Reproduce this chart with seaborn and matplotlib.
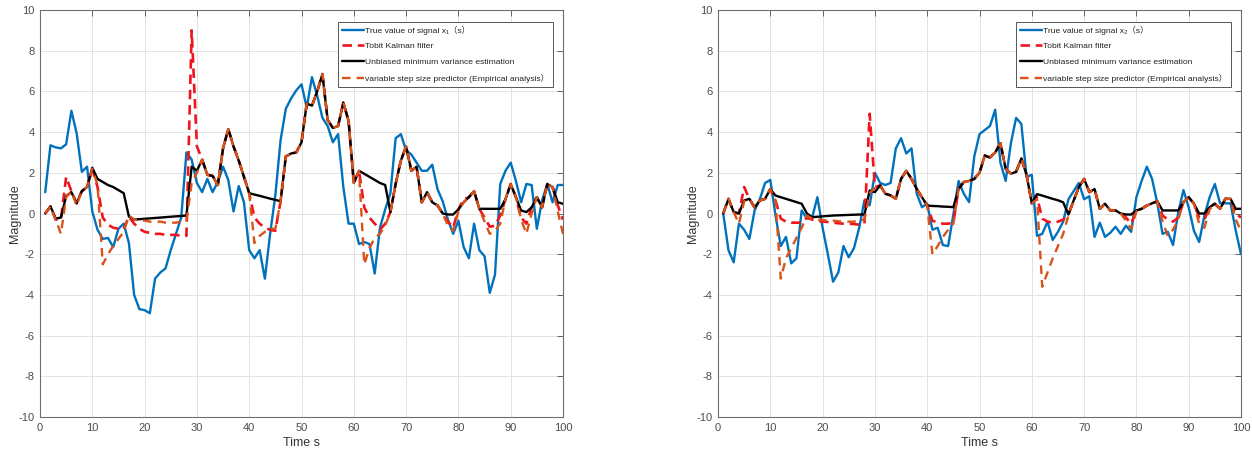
import matplotlib
matplotlib.use('Agg')
import matplotlib.pyplot as plt
import seaborn as sns

# time axis (samples 1..100)
t = list(range(1, 101))

# ---- signal x1 ----
x1_true = [1.05, 3.35, 3.25, 3.2, 3.4, 5.05, 3.95, 2.05, 2.3, 0.1,
           -0.8, -1.25, -1.2, -1.65, -0.75, -0.5, -1.45, -4.0, -4.7, -4.75,
           -4.9, -3.2, -2.9, -2.7, -1.8, -1.0, -0.2, 3.0, 2.65, 1.5,
           1.05, 1.7, 1.05, 1.55, 2.3, 1.65, 0.1, 1.35, 0.55, -1.8,
           -2.2, -1.8, -3.2, -1.0, 0.9, 3.6, 5.15, 5.65, 6.05, 6.35,
           5.2, 6.7, 5.8, 4.7, 4.3, 3.5, 3.9, 1.3, -0.5, -0.5,
           -1.5, -1.4, -1.5, -2.95, -0.7, 0.2, 1.0, 3.7, 3.9, 3.1,
           2.9, 2.5, 2.1, 2.1, 2.4, 1.2, 0.6, -0.3, -1.0, -0.35,
           -1.65, -2.2, -0.5, -1.8, -2.1, -3.9, -3.0, 1.45, 2.1, 2.5,
           1.6, 0.55, 1.45, 1.4, -0.75, 0.65, 1.45, 0.55, 1.4, 1.4]
x1_tobit = [0.0, 0.35, -0.3, -0.3, 1.8, 1.1, 0.5, 1.1, 1.3, 2.2,
            1.3, -0.2, -0.55, -0.7, -0.75, -0.75, -0.15, -0.5, -0.75, -0.9,
            -0.95, -1.0, -1.0, -1.05, -1.05, -1.05, -1.1, -1.1, 9.0, 3.3,
            2.65, 1.9, 1.85, 1.4, 3.2, 4.15, 3.3, 2.6, 1.8, 1.0,
            -0.2, -0.5, -0.7, -0.8, -0.85, 0.6, 2.8, 2.95, 3.0, 3.5,
            5.4, 5.3, 6.0, 6.85, 4.6, 4.2, 4.3, 5.45, 4.55, 1.5,
            2.1, 0.3, -0.2, -0.5, -0.8, -0.5, 0.07, 1.45, 2.6, 3.3,
            2.1, 2.3, 0.55, 1.05, 0.55, 0.4, 0.0, -0.4, -0.7, 0.2,
            0.7, 0.8, 1.1, 0.23, -0.2, -0.65, -0.6, -0.1, 0.7, 1.45,
            0.8, -0.2, -0.5, 0.3, 0.8, 0.3, 1.45, 1.3, 0.4, -0.3]
x1_umve = [0.0, 0.35, -0.25, -0.2, 0.85, 1.05, 0.5, 1.1, 1.3, 2.25,
           1.7, 1.55, 1.4, 1.3, 1.15, 1.0, -0.15, -0.3, -0.28, -0.26,
           -0.24, -0.22, -0.2, -0.18, -0.16, -0.14, -0.12, -0.1, 2.3, 2.1,
           2.65, 1.9, 1.85, 1.4, 3.2, 4.15, 3.3, 2.6, 1.8, 1.0,
           0.93, 0.87, 0.8, 0.73, 0.67, 0.6, 2.8, 2.95, 3.0, 3.5,
           5.4, 5.3, 6.0, 6.85, 4.6, 4.2, 4.3, 5.45, 4.55, 1.5,
           2.1, 1.95, 1.8, 1.65, 1.5, 1.4, 0.07, 1.45, 2.6, 3.3,
           2.1, 2.3, 0.55, 1.05, 0.55, 0.4, 0.0, -0.05, -0.05, 0.2,
           0.55, 0.8, 1.1, 0.23, 0.23, 0.23, 0.23, 0.23, 0.7, 1.45,
           0.8, 0.15, 0.07, 0.3, 0.8, 0.3, 1.45, 1.3, 0.55, 0.48]
x1_vss = [0.0, 0.35, -0.3, -1.0, 0.8, 1.1, 0.4, 1.1, 1.3, 2.2,
          1.4, -2.5, -2.0, -1.6, -1.25, -0.9, -0.1, -0.3, -0.35, -0.35,
          -0.4, -0.4, -0.4, -0.45, -0.45, -0.45, -0.4, -0.35, 1.5, 2.0,
          2.65, 1.9, 1.85, 1.4, 3.2, 4.15, 3.3, 2.6, 1.8, 1.0,
          -1.45, -1.1, -0.9, -0.75, -0.75, 0.6, 2.8, 2.95, 3.0, 3.5,
          5.4, 5.3, 6.0, 6.85, 4.6, 4.2, 4.3, 5.45, 4.55, 1.5,
          2.1, -2.5, -1.7, -1.2, -1.0, -0.6, 0.07, 1.45, 2.6, 3.3,
          2.1, 2.3, 0.55, 1.05, 0.55, 0.4, 0.0, -0.6, -0.85, 0.1,
          0.55, 0.8, 1.1, 0.23, -0.4, -1.0, -0.85, -0.5, 0.7, 1.45,
          0.8, -0.3, -1.0, 0.0, 0.8, 0.3, 1.45, 1.3, 0.1, -1.0]

# ---- signal x2 ----
x2_true = [0.0, -1.8, -2.4, -0.5, -0.8, -1.25, 0.15, 0.7, 1.5, 1.65,
           -0.1, -1.6, -1.15, -2.45, -2.2, 0.15, -0.25, -0.2, 0.8, -0.7,
           -2.0, -3.35, -2.9, -1.6, -2.15, -1.7, -0.7, 0.65, 0.4, 2.0,
           1.5, 1.4, 1.5, 3.2, 3.7, 2.95, 3.2, 0.97, 0.31, 0.48,
           -0.8, -0.7, -1.55, -1.6, -0.05, 1.6, 0.97, 0.56, 2.8, 3.9,
           4.1, 4.3, 5.1, 2.5, 1.6, 3.45, 4.7, 4.4, 1.8, 1.9,
           -1.1, -1.0, -0.4, -1.3, -0.9, -0.4, 0.7, 1.1, 1.5, 0.7,
           0.85, -1.15, -0.45, -1.15, -0.95, -0.65, -1.0, -0.6, -0.9, 0.8,
           1.6, 2.3, 1.7, 0.5, -1.0, -0.9, -1.55, 0.05, 1.15, 0.3,
           -0.85, -1.4, -0.1, 0.8, 1.45, 0.5, 0.5, 0.5, -0.85, -2.0]
x2_tobit = [0.0, 0.72, 0.07, 0.0, 1.3, 0.72, 0.3, 0.64, 0.72, 1.2,
            0.64, -0.25, -0.4, -0.45, -0.45, -0.45, -0.2, -0.3, -0.35, -0.4,
            -0.42, -0.45, -0.48, -0.5, -0.5, -0.52, -0.55, -0.5, 4.9, 1.3,
            1.38, 0.97, 0.89, 0.72, 1.7, 2.1, 1.7, 1.2, 0.8, 0.39,
            -0.35, -0.45, -0.5, -0.5, -0.45, 1.2, 1.55, 1.6, 1.7, 2.0,
            2.85, 2.75, 3.0, 3.45, 2.2, 1.95, 2.05, 2.7, 1.9, 0.5,
            0.8, -0.25, -0.4, -0.45, -0.4, -0.3, -0.05, 0.64, 1.3, 1.7,
            1.05, 1.2, 0.23, 0.48, 0.15, 0.15, 0.0, -0.2, -0.5, 0.15,
            0.23, 0.39, 0.5, 0.6, -0.1, -0.3, -0.4, -0.2, 0.56, 0.8,
            0.48, -0.2, -0.3, 0.31, 0.48, 0.23, 0.72, 0.72, 0.0, -0.2]
x2_umve = [0.0, 0.72, 0.07, 0.0, 0.64, 0.72, 0.3, 0.64, 0.72, 1.2,
           0.88, 0.8, 0.72, 0.64, 0.56, 0.48, 0.0, -0.18, -0.16, -0.14,
           -0.12, -0.1, -0.09, -0.08, -0.07, -0.06, -0.05, -0.05, 1.13, 1.05,
           1.38, 0.97, 0.89, 0.72, 1.7, 2.1, 1.7, 1.2, 0.8, 0.39,
           0.37, 0.36, 0.34, 0.33, 0.31, 1.2, 1.55, 1.6, 1.7, 2.0,
           2.85, 2.75, 3.0, 3.45, 2.2, 1.95, 2.05, 2.7, 1.9, 0.5,
           0.95, 0.88, 0.8, 0.72, 0.65, 0.55, -0.05, 0.64, 1.3, 1.7,
           1.05, 1.2, 0.23, 0.48, 0.15, 0.15, 0.0, -0.05, -0.05, 0.15,
           0.23, 0.39, 0.5, 0.6, 0.15, 0.15, 0.15, 0.15, 0.56, 0.8,
           0.48, 0.0, 0.0, 0.31, 0.48, 0.23, 0.72, 0.72, 0.23, 0.23]
x2_vss = [0.0, 0.72, 0.07, -0.5, 0.6, 0.72, 0.3, 0.64, 0.72, 1.2,
          0.64, -3.2, -2.2, -1.7, -1.2, -0.7, -0.1, -0.25, -0.3, -0.32,
          -0.35, -0.35, -0.38, -0.4, -0.4, -0.4, -0.35, -0.3, 1.0, 1.25,
          1.38, 0.97, 0.89, 0.72, 1.7, 2.1, 1.7, 1.2, 0.8, 0.39,
          -2.0, -1.6, -1.15, -0.8, -0.5, 1.2, 1.55, 1.6, 1.7, 2.0,
          2.85, 2.75, 3.0, 3.45, 2.2, 1.95, 2.05, 2.7, 1.9, 0.5,
          0.7, -3.6, -2.9, -2.2, -1.6, -1.0, -0.1, 0.64, 1.3, 1.7,
          1.05, 1.2, 0.23, 0.48, 0.15, 0.15, 0.0, -0.35, -0.75, 0.1,
          0.23, 0.39, 0.5, 0.6, -0.4, -1.1, -0.8, -0.3, 0.56, 0.8,
          0.48, -0.5, -0.7, 0.2, 0.48, 0.23, 0.72, 0.72, -0.3, -0.85]

labels_true = ['True value of signal x\u2081\uff08s\uff09', 'True value of signal x\u2082\uff08s\uff09']
label_tobit = 'Tobit Kalman filter'
label_umve = 'Unbiased minimum variance estimation'
label_vss = 'variable step size predictor (Empirical analysis\uff09'

sns.set_style('white')
plt.rcParams['font.family'] = ['Liberation Sans', 'DejaVu Sans', 'Noto Sans CJK SC']
plt.rcParams['axes.unicode_minus'] = False

fig = plt.figure(figsize=(12.52, 4.57), dpi=100)
W, H = 1252, 457
ax1 = fig.add_axes([40 / W, 1 - 417 / H, 523 / W, 407 / H])
ax2 = fig.add_axes([718 / W, 1 - 417 / H, 523 / W, 407 / H])


def draw_panel(ax, true, tobit, umve, vss, true_label):
    sns.lineplot(x=t, y=true, ax=ax, color='#0072BD', lw=1.7, label=true_label)
    sns.lineplot(x=t, y=tobit, ax=ax, color='#F0141E', lw=1.9, linestyle='--', label=label_tobit)
    ax.lines[-1].set_dashes((3.6, 2.2))
    sns.lineplot(x=t, y=umve, ax=ax, color='black', lw=1.7, label=label_umve)
    sns.lineplot(x=t, y=vss, ax=ax, color='#D95319', lw=1.7, linestyle='--', label=label_vss)
    ax.lines[-1].set_dashes((3.6, 2.6))

    ax.set_xlim(0, 100)
    ax.set_ylim(-10, 10)
    ax.set_xticks(range(0, 101, 10))
    ax.set_yticks(range(-10, 11, 2))
    ax.grid(True, color='#e3e3e3', lw=0.7)
    ax.tick_params(direction='in', top=True, right=True, length=4, width=0.6,
                   labelsize=8, colors='#4d4d4d', pad=4)
    for s in ax.spines.values():
        s.set_color('#6e6e6e')
        s.set_linewidth(0.8)
    ax.set_xlabel('Time s', fontsize=9, color='#333333', labelpad=3)
    ax.set_ylabel('Magnitude', fontsize=9, color='#333333')
    ax.yaxis.set_label_coords(-0.036, 0.5)
    leg = ax.legend(loc='upper right', bbox_to_anchor=(0.981, 0.971), borderaxespad=0,
                    fontsize=6.1, frameon=True, fancybox=False, framealpha=1,
                    edgecolor='#555555', handlelength=2.6, handletextpad=0.15,
                    labelspacing=0.9, borderpad=0.45)
    leg.get_frame().set_linewidth(0.7)
    for txt in leg.get_texts():
        txt.set_color('#222222')


draw_panel(ax1, x1_true, x1_tobit, x1_umve, x1_vss, labels_true[0])
draw_panel(ax2, x2_true, x2_tobit, x2_umve, x2_vss, labels_true[1])

fig.savefig('out.png', dpi=100)
